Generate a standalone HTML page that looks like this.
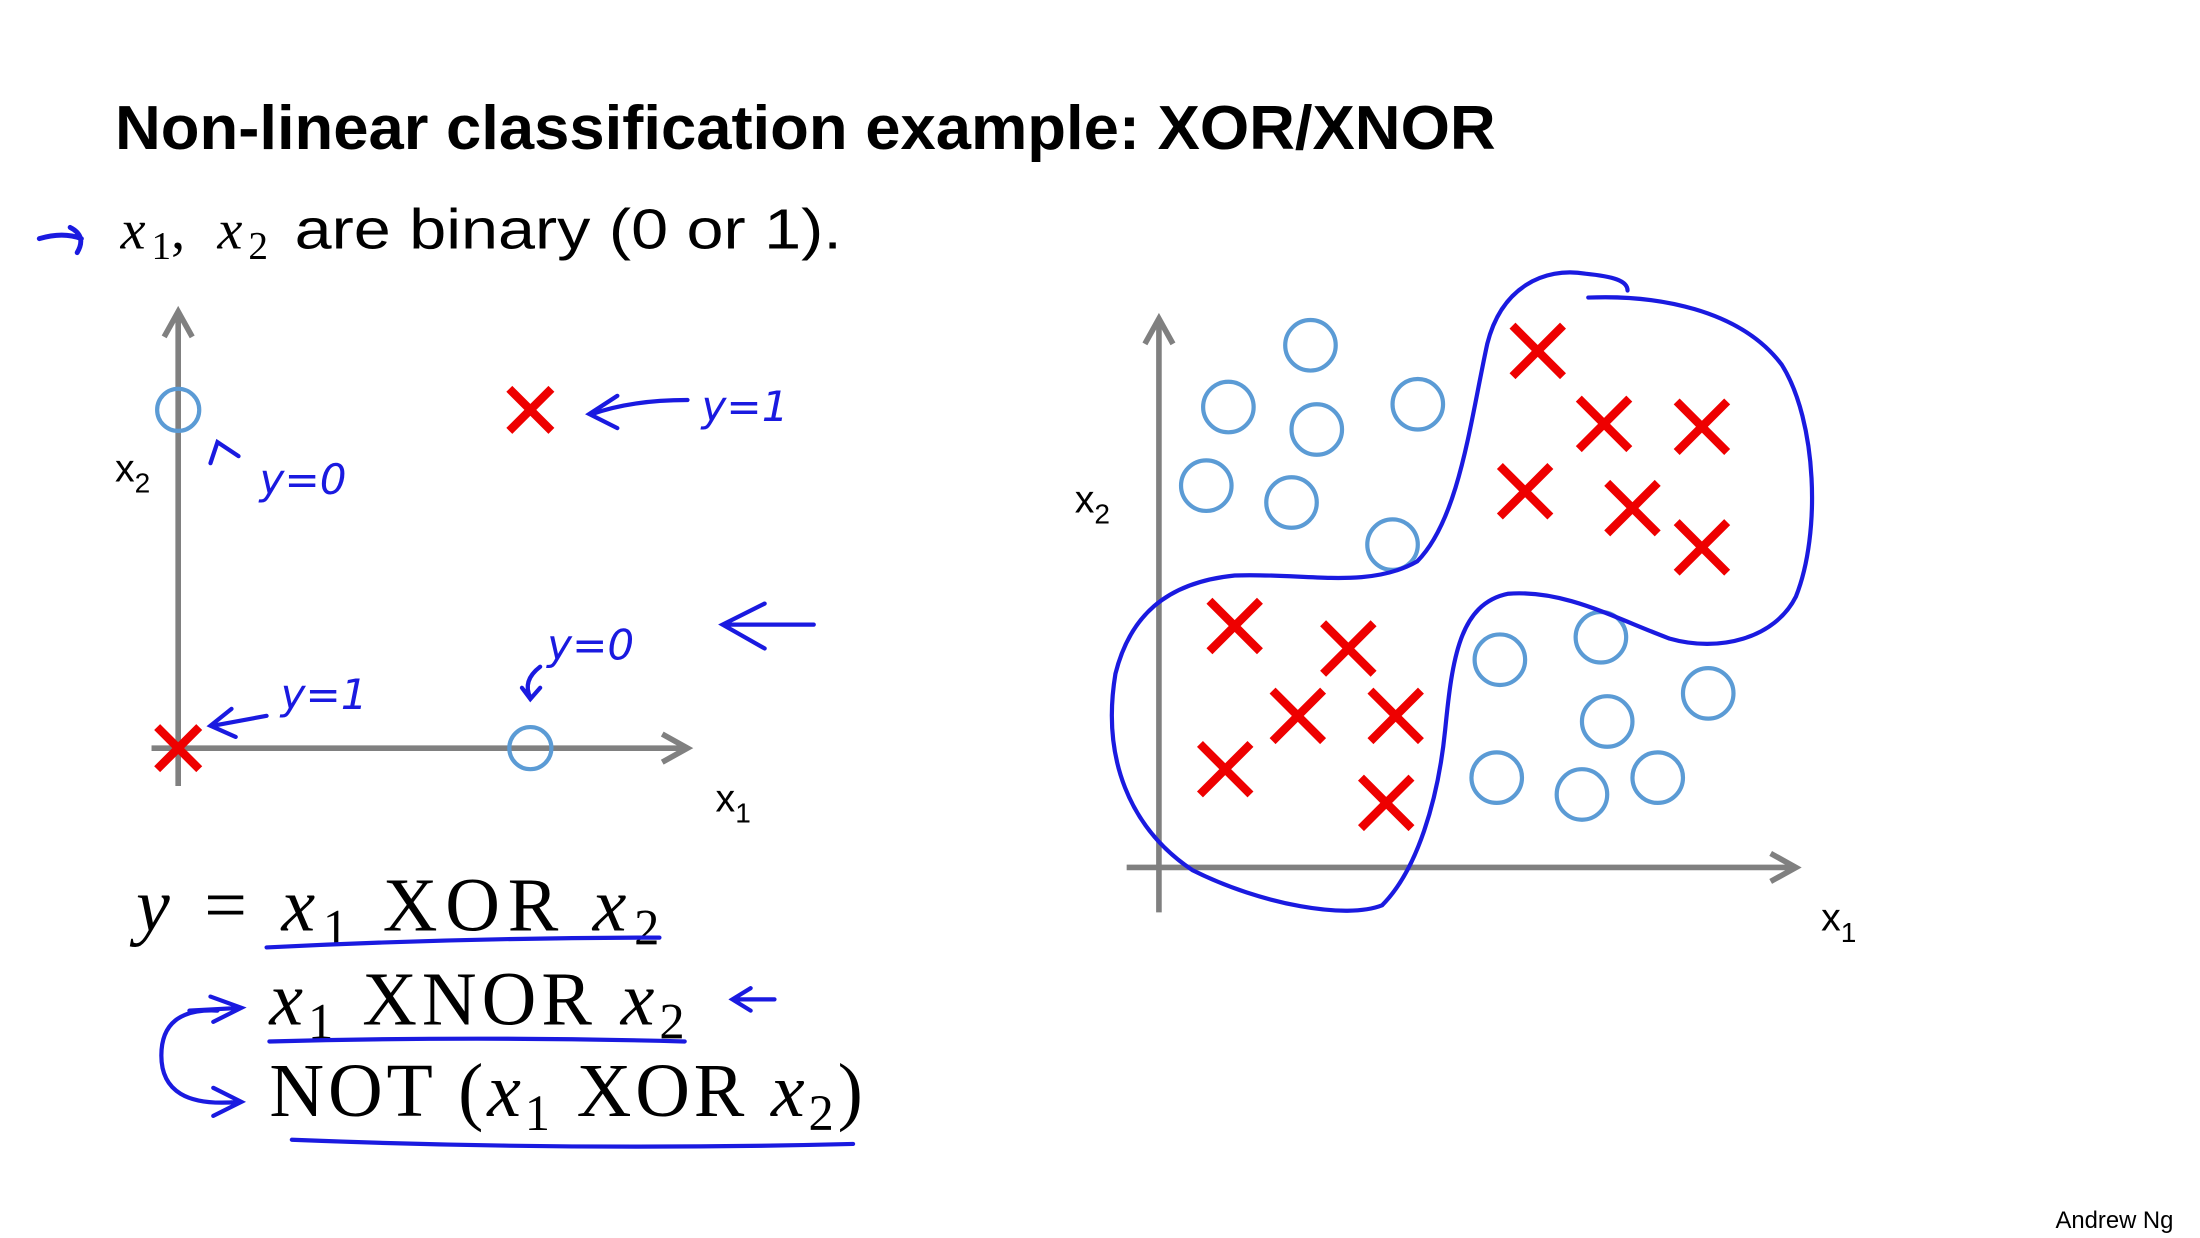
<!DOCTYPE html>
<html><head><meta charset="utf-8">
<style>html,body{margin:0;padding:0;background:#fff;}svg{display:block;}</style></head>
<body>
<svg id="slide" width="2200" height="1238" viewBox="0 0 1568 882" preserveAspectRatio="none" xmlns="http://www.w3.org/2000/svg">
<rect width="1568" height="882" fill="#fff"/>
<text x="82" y="106" font-family="Liberation Sans, sans-serif" font-weight="bold" font-size="44" textLength="984" lengthAdjust="spacingAndGlyphs">Non-linear classification example: XOR/XNOR</text>
<path d="M28 170 Q45 165 58 170 M50 162 Q62 168 55 180" stroke="#1a1ae0" stroke-width="3.5" fill="none" stroke-linecap="round"/>
<g font-size="40">
<text x="86" y="177" font-family="Liberation Serif, serif" font-style="italic">x</text>
<text x="108" y="184" font-family="Liberation Serif, serif" font-size="28">1</text>
<text x="122" y="177" font-family="Liberation Serif, serif">,</text>
<text x="155" y="177" font-family="Liberation Serif, serif" font-style="italic">x</text>
<text x="177" y="184" font-family="Liberation Serif, serif" font-size="28">2</text>
<text x="210" y="177" font-family="Liberation Sans, sans-serif" textLength="390" lengthAdjust="spacingAndGlyphs">are binary (0 or 1).</text>
</g>
<g id="left"></g>
<g id="right"></g>
<path fill="none" stroke="#1a1ae0" stroke-width="3" stroke-linejoin="round" stroke-linecap="round"
d="M1132 212 C1180 210 1240 220 1270 260 C1295 300 1298 380 1280 425 C1265 455 1225 465 1190 455 C1150 440 1115 420 1075 423 C1040 430 1035 470 1030 520 C1025 570 1010 620 985 645 C960 655 900 645 850 620 C805 590 785 540 795 480 C805 440 830 415 880 410 C930 408 975 420 1010 400 C1040 370 1048 300 1060 245 C1070 205 1100 190 1130 195 C1150 197 1160 200 1160 207"/>
<g font-family="Liberation Serif, serif" font-size="54">
<text x="97" y="663" textLength="373" lengthAdjust="spacing"><tspan font-style="italic">y</tspan> = <tspan font-style="italic">x</tspan><tspan font-size="36" dy="10">1</tspan><tspan dy="-10"> XOR </tspan><tspan font-style="italic">x</tspan><tspan font-size="36" dy="10">2</tspan></text>
<text x="192" y="730" textLength="296" lengthAdjust="spacing"><tspan font-style="italic">x</tspan><tspan font-size="36" dy="10">1</tspan><tspan dy="-10"> XNOR </tspan><tspan font-style="italic">x</tspan><tspan font-size="36" dy="10">2</tspan></text>
<text x="192" y="795" textLength="423" lengthAdjust="spacing">NOT (<tspan font-style="italic">x</tspan><tspan font-size="36" dy="10">1</tspan><tspan dy="-10"> XOR </tspan><tspan font-style="italic">x</tspan><tspan font-size="36" dy="10">2</tspan><tspan dy="-10">)</tspan></text>
</g>
<g stroke="#1a1ae0" stroke-width="3" fill="none" stroke-linecap="round">
<path d="M190 675 Q330 668 470 668"/>
<path d="M192 742 Q340 738 488 742"/>
<path d="M208 812 Q410 820 608 815"/>
<path d="M155 720 Q115 718 115 752 Q115 790 170 785 M150 710 L172 718 L152 728 M152 775 L172 785 L152 795 M135 720 L172 718"/>
<path d="M552 712 L522 712 M535 704 L522 712 L535 720"/>
<path d="M580 445 L515 445 M545 430 L515 445 L545 462"/>
<path d="M490 285 Q450 285 422 295 M440 282 L420 295 L440 305"/>
<path d="M190 510 L152 517 M165 505 L150 517 L168 525"/>
<path d="M150 330 L155 315 L170 325"/>
<path d="M385 475 Q372 485 378 497 M372 490 L378 498 L385 490"/>
</g>
<g fill="#1a1ae0" font-family="DejaVu Sans, sans-serif" font-style="italic" font-size="30">
<text x="500" y="300">y=1</text><text x="185" y="352">y=0</text><text x="200" y="505">y=1</text><text x="390" y="470">y=0</text>
</g>
<text x="1465" y="875" font-family="Liberation Sans, sans-serif" font-size="17">Andrew Ng</text>
</svg>
<script>
const ns='http://www.w3.org/2000/svg';
// Left plot data (binary inputs)
const leftCircleX=[0,1];
const leftCircleY=[1,0];
const leftCrossX=[1,0];
const leftCrossY=[1,0];
// Right plot data
const rightCircleX=[2.4,1.1,2.5,4.1,0.75,2.1,3.7,5.4,7.0,8.7,7.1,5.35,6.7,7.9];
const rightCircleY=[9.3,8.2,7.8,8.25,6.8,6.5,5.75,3.7,4.1,3.1,2.6,1.6,1.3,1.6];
const rightCrossX=[6.0,7.05,8.6,5.8,7.5,8.6,1.2,3.0,2.2,3.75,1.05,3.6];
const rightCrossY=[9.2,7.9,7.85,6.7,6.4,5.7,4.3,3.9,2.7,2.7,1.75,1.15];
function mk(tag,attrs,parent){const e=document.createElementNS(ns,tag);for(const k in attrs)e.setAttribute(k,attrs[k]);parent.appendChild(e);return e;}
function drawPlot(g,sx,sy,axes,cx,cy,xx,xy,r,arm,lbl){
  const ya=mk('path',{d:axes.y,stroke:'#808080','stroke-width':4,fill:'none'},g);
  
  
  const xa=mk('path',{d:axes.x,stroke:'#808080','stroke-width':4,fill:'none'},g);
  
  
  for(let i=0;i<cx.length;i++){
    const c=mk('circle',{cx:sx(cx[i]),cy:sy(cy[i]),r:r,fill:'none',stroke:'#5b9bd5','stroke-width':3},g);
    
    
  }
  for(let i=0;i<xx.length;i++){
    const X=sx(xx[i]),Y=sy(xy[i]);
    const p=mk('path',{d:`M${X-arm} ${Y-arm}L${X+arm} ${Y+arm}M${X+arm} ${Y-arm}L${X-arm} ${Y+arm}`,stroke:'#ee0000','stroke-width':6,fill:'none'},g);
    
    
  }
  const t1=mk('text',{x:lbl.x1[0],y:lbl.x1[1],'font-family':'Liberation Sans, sans-serif','font-size':28},g);
  
  
  t1.textContent='x';
  mk('tspan',{'font-size':20,dy:8},t1).textContent='1';
  const t2=mk('text',{x:lbl.x2[0],y:lbl.x2[1],'font-family':'Liberation Sans, sans-serif','font-size':28},g);
  
  
  t2.textContent='x';
  mk('tspan',{'font-size':20,dy:8},t2).textContent='2';
}
drawPlot(document.getElementById('left'),v=>127+v*251,v=>533-v*241,
 {y:'M127 560 L127 225 M117 240 L127 222 L137 240',x:'M108 533 L488 533 M472 523 L490 533 L472 543'},
 leftCircleX,leftCircleY,leftCrossX,leftCrossY,15,15,{x1:[510,578],x2:[82,343]});
drawPlot(document.getElementById('right'),v=>826+v*45,v=>618-v*40,
 {y:'M826 650 L826 230 M816 245 L826 227 L836 245',x:'M803 618 L1278 618 M1262 608 L1280 618 L1262 628'},
 rightCircleX,rightCircleY,rightCrossX,rightCrossY,18,18,{x1:[1298,663],x2:[766,365]});
</script>
</body></html>
